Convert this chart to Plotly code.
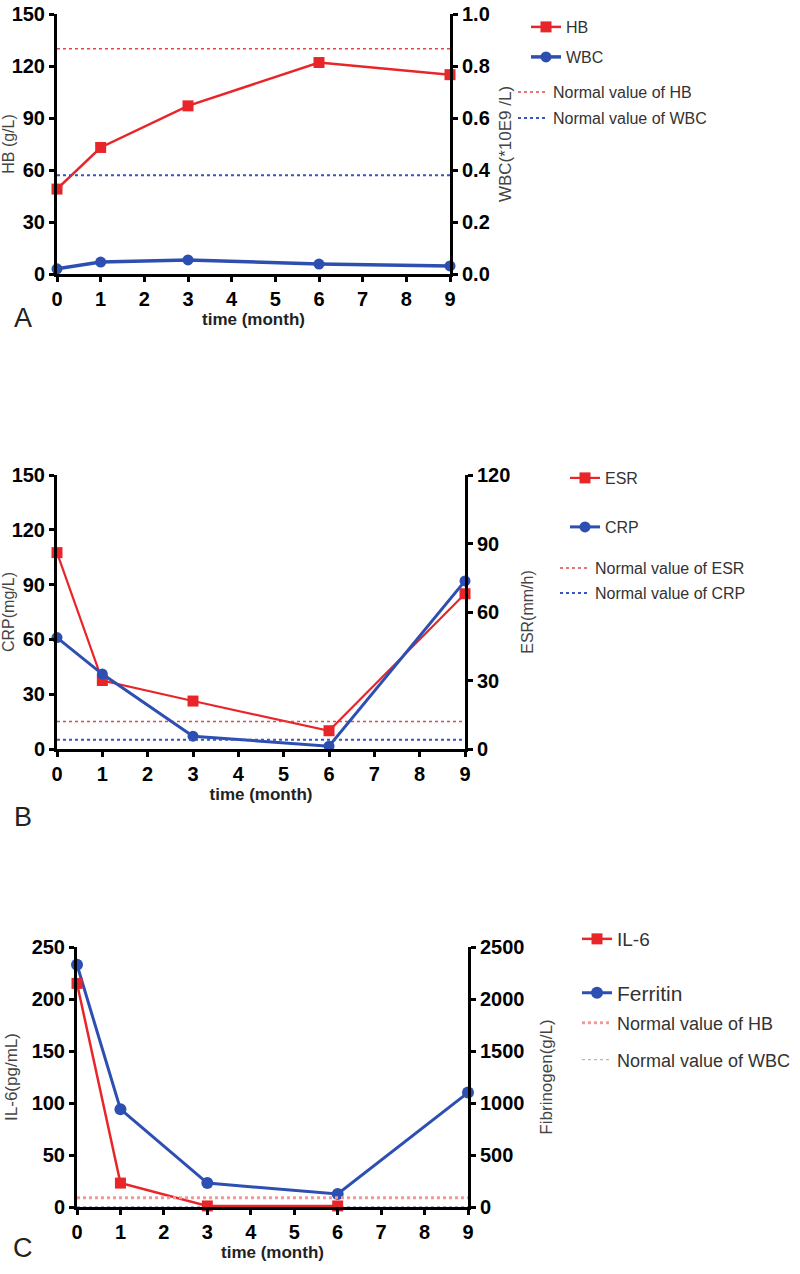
import plotly.graph_objects as go

# ---------------- data ----------------
MONTHS = [0, 1, 3, 6, 9]
NORMAL_SPAN = [0, 9]

HB = [49, 73, 97, 122, 115]                 # g/L (left axis, panel A)
WBC = [0.02, 0.046, 0.054, 0.038, 0.031]    # *10E9/L (right axis, panel A)
HB_NORMAL = 130
WBC_NORMAL = 0.38

ESR = [86, 30, 21, 8, 68]                   # mm/h (right axis, panel B)
CRP = [61, 41, 7, 1.5, 92]                  # mg/L (left axis, panel B)
ESR_NORMAL = 12
CRP_NORMAL = 5

IL6_MONTHS = [0, 1, 3, 6]
IL6 = [215, 23, 1, 1]                       # pg/mL (left axis, panel C)
FERRITIN = [2330, 940, 230, 125, 1100]      # right axis, panel C
IL6_NORMAL = 9
FERRITIN_NORMAL = 4

X_TICKS = list(range(0, 10))

# ---------------- style ----------------
W, H = 800, 1274
FONT = "Liberation Sans, Arial, sans-serif"
RED = "#E8262A"
BLUE = "#2D4FB2"
RED_DOT = "#E0484A"
BLUE_DOT = "#3556C4"
PINK_DOT = "#F29A9A"


def fx(p):
    return p / W


def fy(p):
    return 1 - p / H


fig = go.Figure()

# ---- Panel A ----
fig.add_trace(go.Scatter(x=MONTHS, y=HB, name="HB", mode="lines+markers",
                         xaxis="x", yaxis="y", cliponaxis=False,
                         line=dict(color=RED, width=2.5),
                         marker=dict(symbol="square", size=11, color=RED),
                         legend="legend"))
fig.add_trace(go.Scatter(x=MONTHS, y=WBC, name="WBC", mode="lines+markers",
                         xaxis="x", yaxis="y2", cliponaxis=False,
                         line=dict(color=BLUE, width=3.5),
                         marker=dict(symbol="circle", size=11, color=BLUE),
                         legend="legend2"))
fig.add_trace(go.Scatter(x=NORMAL_SPAN, y=[HB_NORMAL] * 2, name="Normal value of HB",
                         mode="lines", xaxis="x", yaxis="y",
                         line=dict(color=RED_DOT, width=1.5, dash="dot"),
                         legend="legend3"))
fig.add_trace(go.Scatter(x=NORMAL_SPAN, y=[WBC_NORMAL] * 2, name="Normal value of WBC",
                         mode="lines", xaxis="x", yaxis="y2",
                         line=dict(color=BLUE_DOT, width=2, dash="dot"),
                         legend="legend4"))

# ---- Panel B ---- (right axis y4 is base, left y3 overlays -> CRP drawn on top)
fig.add_trace(go.Scatter(x=MONTHS, y=ESR, name="ESR", mode="lines+markers",
                         xaxis="x2", yaxis="y4", cliponaxis=False,
                         line=dict(color=RED, width=2.2),
                         marker=dict(symbol="square", size=11, color=RED),
                         legend="legend5"))
fig.add_trace(go.Scatter(x=NORMAL_SPAN, y=[ESR_NORMAL] * 2, name="Normal value of ESR",
                         mode="lines", xaxis="x2", yaxis="y4",
                         line=dict(color=RED_DOT, width=1.5, dash="dot"),
                         legend="legend7"))
fig.add_trace(go.Scatter(x=MONTHS, y=CRP, name="CRP", mode="lines+markers",
                         xaxis="x2", yaxis="y3", cliponaxis=False,
                         line=dict(color=BLUE, width=3),
                         marker=dict(symbol="circle", size=11, color=BLUE),
                         legend="legend6"))
fig.add_trace(go.Scatter(x=NORMAL_SPAN, y=[CRP_NORMAL] * 2, name="Normal value of CRP",
                         mode="lines", xaxis="x2", yaxis="y3",
                         line=dict(color=BLUE_DOT, width=2, dash="dot"),
                         legend="legend8"))

# ---- Panel C ---- (right axis y6 is base, left y5 overlays)
fig.add_trace(go.Scatter(x=MONTHS, y=FERRITIN, name="Ferritin", mode="lines+markers",
                         xaxis="x3", yaxis="y6", cliponaxis=False,
                         line=dict(color=BLUE, width=3),
                         marker=dict(symbol="circle", size=12, color=BLUE),
                         legend="legend10"))
fig.add_trace(go.Scatter(x=NORMAL_SPAN, y=[FERRITIN_NORMAL] * 2, name="Normal value of WBC",
                         mode="lines", xaxis="x3", yaxis="y6",
                         line=dict(color="#9aa6dc", width=1, dash="dot"),
                         legend="legend12"))
fig.add_trace(go.Scatter(x=IL6_MONTHS, y=IL6, name="IL-6", mode="lines+markers",
                         xaxis="x3", yaxis="y5", cliponaxis=False,
                         line=dict(color=RED, width=2.5),
                         marker=dict(symbol="square", size=11, color=RED),
                         legend="legend9"))
fig.add_trace(go.Scatter(x=NORMAL_SPAN, y=[IL6_NORMAL] * 2, name="Normal value of HB",
                         mode="lines", xaxis="x3", yaxis="y5",
                         line=dict(color=PINK_DOT, width=3, dash="dot"),
                         legend="legend11"))

# ---------------- axes ----------------
tickfont = dict(family=FONT, size=20, color="black", weight="bold")
common = dict(showline=True, linecolor="black", linewidth=3, ticks="outside",
              ticklen=5, tickwidth=3, tickcolor="black", showgrid=False,
              zeroline=False, tickfont=tickfont, automargin=False, fixedrange=True,
              ticklabeloverflow="allow")


def xax(dom, anchor):
    return dict(common, domain=[fx(dom[0]), fx(dom[1])], range=[0, 9],
                tickvals=X_TICKS, anchor=anchor,
                title=dict(text="time (month)", standoff=3,
                           font=dict(family=FONT, size=17, color="#222", weight="bold")))


def yax(dom, rng, dtick, title, tsize, standoff, **kw):
    return dict(common, domain=[fy(dom[1]), fy(dom[0])], range=rng, dtick=dtick, tick0=0,
                title=dict(text=title, standoff=standoff,
                           font=dict(family=FONT, size=tsize, color="#444")), **kw)


A_X, A_Y = (57, 450), (14, 274)
B_X, B_Y = (57, 465), (475, 749)
C_X, C_Y = (77, 468), (947, 1207)

fig.update_layout(
    xaxis=xax(A_X, "y"),
    yaxis=yax(A_Y, [0, 150], 30, "HB (g/L)", 16, 1, anchor="x", side="left"),
    yaxis2=yax(A_Y, [0, 1], 0.2, "WBC(*10E9 /L)", 17, 10, anchor="x", side="right",
               overlaying="y", tickformat=".1f"),
    xaxis2=xax(B_X, "y4"),
    yaxis4=yax(B_Y, [0, 120], 30, "ESR(mm/h)", 16, 13, anchor="x2", side="right"),
    yaxis3=yax(B_Y, [0, 150], 30, "CRP(mg/L)", 16, 1, anchor="x2", side="left",
               overlaying="y4"),
    xaxis3=xax(C_X, "y6"),
    yaxis6=yax(C_Y, [0, 2500], 500, "Fibrinogen(g/L)", 17, 17, anchor="x3", side="right"),
    yaxis5=yax(C_Y, [0, 250], 50, "IL-6(pg/mL)", 17, 10, anchor="x3", side="left",
               overlaying="y6"),
)

# ---------------- legends (one per entry, to match the uneven spacing) ----------------
LEGEND_POS = {
    "legend": (566, 27, 16), "legend2": (566, 57, 16),
    "legend3": (553, 92, 16), "legend4": (553, 118, 16),
    "legend5": (605, 478, 16), "legend6": (605, 527, 16),
    "legend7": (595, 568, 16), "legend8": (595, 593, 16),
    "legend9": (617, 939, 19), "legend10": (617, 993, 21),
    "legend11": (617, 1023, 18), "legend12": (617, 1060, 18),
}
for key, (tx, ty, size) in LEGEND_POS.items():
    fig.update_layout({key: dict(x=fx(tx - 40), y=fy(ty), xanchor="left", yanchor="middle",
                                 bgcolor="rgba(0,0,0,0)", borderwidth=0,
                                 font=dict(family=FONT, size=size, color="#333"))})

# ---------------- panel letters ----------------
for letter, (px, py) in {"A": (23, 318), "B": (23, 817), "C": (23, 1248)}.items():
    fig.add_annotation(text=letter, x=fx(px), y=fy(py), xref="paper", yref="paper",
                       showarrow=False, xanchor="center", yanchor="middle",
                       font=dict(family=FONT, size=27, color="#222"))

fig.update_layout(width=W, height=H, margin=dict(l=0, r=0, t=0, b=0),
                  paper_bgcolor="white", plot_bgcolor="white", showlegend=True,
                  template="none")

# remove the default 8px page margin so the figure fills the window exactly
fig.write_html("out.html", config={"displayModeBar": False},
               post_script="document.body.style.margin='0';")
